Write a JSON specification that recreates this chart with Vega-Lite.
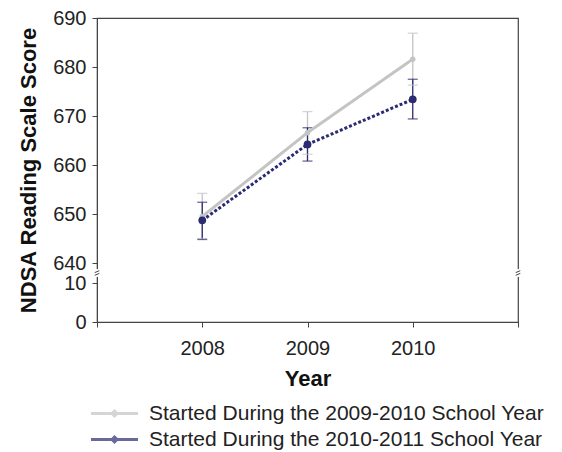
{
  "$schema": "https://vega.github.io/schema/vega-lite/v6.json",
  "autosize": "none",
  "width": 421,
  "height": 304,
  "padding": {"left": 97, "top": 18, "right": 44, "bottom": 130},
  "background": "white",
  "config": {
    "font": "Liberation Sans",
    "view": {"stroke": "#444", "strokeWidth": 1.2},
    "axis": {"grid": false, "labelFont": "Liberation Sans", "titleFont": "Liberation Sans", "labelColor": "#222", "titleColor": "#111", "domainColor": "#444", "tickColor": "#444", "labelFontSize": 20, "titleFontSize": 22, "titleFontWeight": "bold", "tickSize": 5},
    "legend": {"labelFont": "Liberation Sans"}
  },
  "datasets": {
    "scores": [
      {"year": 2008, "group": "Started During the 2009-2010 School Year", "score": 649.5, "lo": 645.0, "hi": 654.2},
      {"year": 2009, "group": "Started During the 2009-2010 School Year", "score": 666.6, "lo": 662.2, "hi": 670.9},
      {"year": 2010, "group": "Started During the 2009-2010 School Year", "score": 681.6, "lo": 676.3, "hi": 686.9},
      {"year": 2008, "group": "Started During the 2010-2011 School Year", "score": 648.7, "lo": 644.8, "hi": 652.4},
      {"year": 2009, "group": "Started During the 2010-2011 School Year", "score": 664.2, "lo": 660.8, "hi": 667.6},
      {"year": 2010, "group": "Started During the 2010-2011 School Year", "score": 673.4, "lo": 669.4, "hi": 677.5}
    ],
    "breaks": [
      {"year": 2007, "score": 325},
      {"year": 2011, "score": 325}
    ]
  },
  "encoding": {
    "x": {
      "field": "year", "type": "quantitative",
      "scale": {"domain": [2007, 2011], "nice": false, "zero": false},
      "axis": {"title": "Year", "values": [2007, 2008, 2009, 2010, 2011], "labelExpr": "datum.value == 2007 || datum.value == 2011 ? '' : datum.label", "format": "d", "labelPadding": 11, "titlePadding": 10}
    }
  },
  "resolve": {"legend": {"strokeDash": "independent", "size": "independent"}},
  "layer": [
    {
      "data": {"name": "scores"},
      "mark": {"type": "rule", "strokeWidth": 1.3},
      "encoding": {
        "y": {"field": "lo", "type": "quantitative"},
        "y2": {"field": "hi"},
        "color": {"field": "group", "type": "nominal"}
      }
    },
    {
      "data": {"name": "scores"},
      "mark": {"type": "tick", "orient": "horizontal", "size": 10, "thickness": 1.3},
      "encoding": {
        "y": {"field": "lo", "type": "quantitative"},
        "color": {"field": "group", "type": "nominal"}
      }
    },
    {
      "data": {"name": "scores"},
      "mark": {"type": "tick", "orient": "horizontal", "size": 10, "thickness": 1.3},
      "encoding": {
        "y": {"field": "hi", "type": "quantitative"},
        "color": {"field": "group", "type": "nominal"}
      }
    },
    {
      "data": {"name": "scores"},
      "mark": {"type": "line", "strokeWidth": 3},
      "encoding": {
        "y": {
          "field": "score", "type": "quantitative",
          "scale": {"type": "linear", "domain": [0, 10, 640, 690], "range": [304, 265, 245, 0], "zero": false, "nice": false},
          "axis": {"title": "NDSA Reading Scale Score", "values": [0, 10, 640, 650, 660, 670, 680, 690], "labelPadding": 6, "titlePadding": 12}
        },
        "color": {
          "field": "group", "type": "nominal",
          "scale": {"range": ["#c4c4c4", "#2b2b72"]},
          "legend": {"title": null, "orient": "none", "legendX": 6, "legendY": 384, "direction": "vertical", "labelFontSize": 21, "labelLimit": 600, "labelColor": "#222", "symbolType": "M-2.35,0L2.35,0M-0.25,0L0,-0.25L0.25,0L0,0.25Z", "symbolSize": 400, "symbolStrokeWidth": 3, "symbolOpacity": 1, "rowPadding": 4, "labelOffset": 23}
        },
        "strokeDash": {"field": "group", "type": "nominal", "legend": null, "scale": {"range": [[1, 0], [3, 2]]}}
      }
    },
    {
      "data": {"name": "scores"},
      "mark": {"type": "point", "filled": true, "opacity": 1},
      "encoding": {
        "y": {"field": "score", "type": "quantitative"},
        "color": {"field": "group", "type": "nominal"},
        "size": {"field": "group", "type": "nominal", "legend": null, "scale": {"range": [30, 60]}}
      }
    },
    {
      "data": {"name": "breaks"},
      "mark": {"type": "point", "shape": "square", "filled": true, "color": "white", "size": 60, "opacity": 1},
      "encoding": {"y": {"field": "score", "type": "quantitative"}}
    },
    {
      "data": {"name": "breaks"},
      "mark": {"type": "point", "shape": "M-0.6,-0.1L0.6,-0.6M-0.6,0.6L0.6,0.1", "filled": false, "color": "#444", "size": 60, "strokeWidth": 1, "opacity": 1},
      "encoding": {"y": {"field": "score", "type": "quantitative"}}
    }
  ]
}
